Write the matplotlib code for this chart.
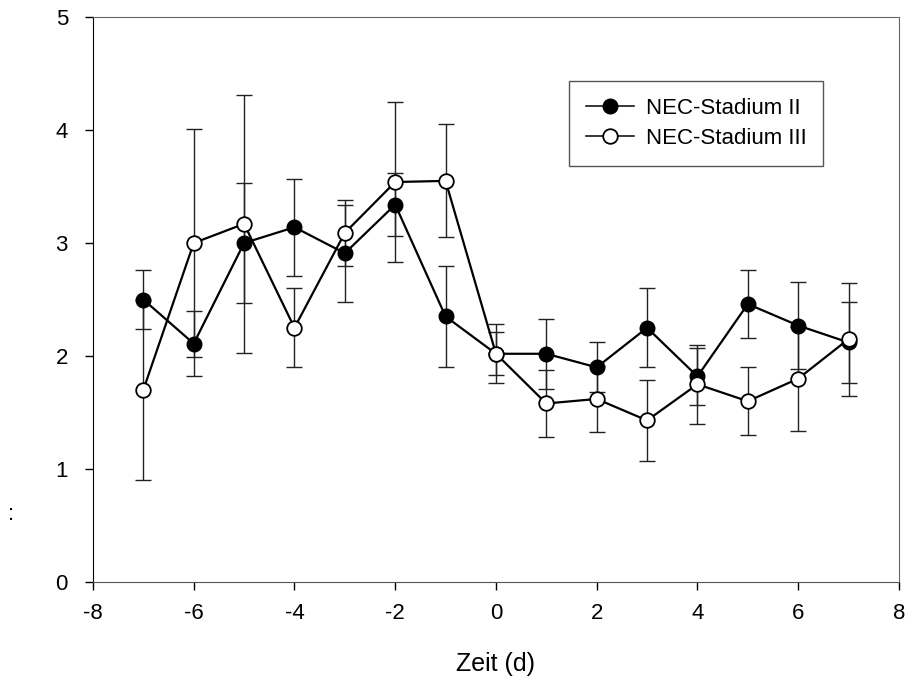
import matplotlib.pyplot as plt
import numpy as np

plt.rcParams['font.family'] = ['Liberation Sans', 'DejaVu Sans']
plt.rcParams['axes.unicode_minus'] = False

days = [-7, -6, -5, -4, -3, -2, -1, 0, 1, 2, 3, 4, 5, 6, 7]

stage2 = [2.50, 2.11, 3.00, 3.14, 2.91, 3.34, 2.35, 2.02, 2.02, 1.90, 2.25, 1.82, 2.46, 2.27, 2.12]
stage2_err = [0.26, 0.29, 0.53, 0.43, 0.43, 0.28, 0.45, 0.26, 0.31, 0.22, 0.35, 0.25, 0.30, 0.385, 0.36]

stage3 = [1.70, 3.00, 3.17, 2.25, 3.09, 3.54, 3.55, 2.02, 1.58, 1.62, 1.43, 1.75, 1.60, 1.80, 2.15]
stage3_err = [0.80, 1.01, 1.14, 0.35, 0.29, 0.71, 0.50, 0.19, 0.30, 0.29, 0.36, 0.35, 0.30, 0.46, 0.50]

fig = plt.figure(figsize=(9.06, 6.82), dpi=100)
ax = fig.add_axes([0.1026, 0.1466, 0.8896, 0.8284])

ax.errorbar(days, stage2, yerr=stage2_err, fmt='none', ecolor='#222222',
            elinewidth=1, capsize=6, capthick=1, zorder=2)
ax.errorbar(days, stage3, yerr=stage3_err, fmt='none', ecolor='#222222',
            elinewidth=1, capsize=6, capthick=1, zorder=2)
ax.plot(days, stage2, '-o', color='black', lw=1.6, ms=10.5,
        mfc='black', mec='black', label='NEC-Stadium II', zorder=3)
ax.plot(days, stage3, '-o', color='black', lw=1.6, ms=10.5,
        mfc='white', mec='black', mew=1.3, label='NEC-Stadium III', zorder=4)

ax.set_xlim(-8, 8)
ax.set_ylim(0, 5)
ax.set_xticks(np.arange(-8, 9, 2))
ax.set_yticks(np.arange(0, 6, 1))
ax.tick_params(axis='both', direction='out', length=6, width=1, labelsize=16,
               top=False, right=False)
ax.tick_params(axis='x', pad=9)
ax.tick_params(axis='y', pad=12)
ax.spines['left'].set_color('black')
ax.spines['bottom'].set_color('#555555')
ax.spines['top'].set_color('#666666')
ax.spines['right'].set_color('#666666')
ax.set_xlabel('Zeit (d)', fontsize=18, labelpad=20)

fig.text(0.012, 0.245, ':', fontsize=16, ha='center', va='center')

leg = ax.legend(loc='upper left', bbox_to_anchor=(0.5905, 0.886), fontsize=16,
                frameon=True, fancybox=False, framealpha=1, edgecolor='#555555',
                handlelength=2.2, borderpad=0.75, labelspacing=0.4, handletextpad=0.5,
                borderaxespad=0)
leg.get_frame().set_linewidth(1)
for line in leg.get_lines():
    line.set_linewidth(1.1)

fig.savefig('out.png', dpi=100)
